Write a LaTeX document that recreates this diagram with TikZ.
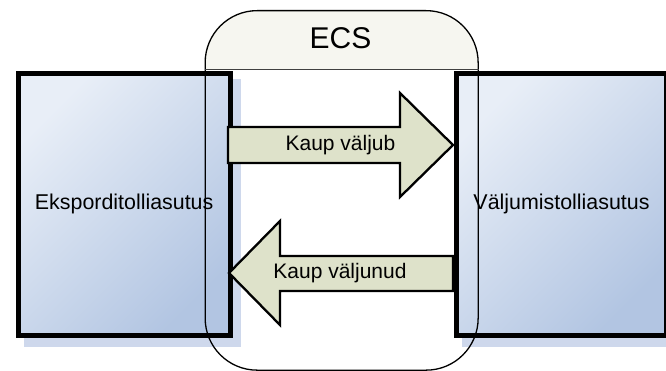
\documentclass[tikz,border=0pt]{standalone}
\usepackage{fontspec}
\setmainfont{Liberation Sans}
\definecolor{boxlight}{RGB}{232,238,247}
\definecolor{boxdark}{RGB}{178,197,226}
\definecolor{shadowc}{RGB}{206,216,236}
\definecolor{headc}{RGB}{246,246,240}
\definecolor{arrowc}{RGB}{222,226,202}
\begin{document}
\begin{tikzpicture}[x=1pt,y=-1pt,
  office/.style={draw=black, line width=5pt, top color=boxlight, bottom color=boxdark,
    shading angle=45, anchor=north west, inner sep=0pt, text=black,
    font=\fontsize{21.4}{25}\selectfont},
  shadowbox/.style={fill=shadowc},
  flow/.style={draw=black, line width=2.3pt, fill=arrowc, line join=miter},
  flowtext/.style={font=\fontsize{21}{25}\selectfont, inner sep=0pt},
  ecsframe/.style={draw=black, line width=1.3pt},
]
\useasboundingbox (0,0) rectangle (666,371);
\fill[white] (0,0) rectangle (666,371);
% ECS header fill
\fill[headc, rounded corners=52pt] (204.5,69) -- (204.5,10) -- (477.5,10) -- (477.5,69);
% shadows
\fill[shadowc] (24,79) rectangle (241,347);
\fill[shadowc] (462,79) rectangle (680,347);
% offices
\node[office, minimum width=211.7pt, minimum height=262.2pt] (exp) at (15.8,70.8) {Eksporditolliasutus};
\node[office, minimum width=210pt, minimum height=262.2pt] (exit) at (454,70.8) {Väljumistolliasutus};
% arrows
\draw[flow] (228,127) -- (400,127) -- (400,93) -- (453,145) -- (400,197) -- (400,163) -- (228,163) -- cycle;
\draw[flow] (453,256) -- (280,256) -- (280,221) -- (229,273) -- (280,325) -- (280,291) -- (453,291) -- cycle;
\node[flowtext] (go) at (340.5,145) {Kaup väljub};
\node[flowtext] (gone) at (340,273) {Kaup väljunud};
% ECS frame
\node[ecsframe, rounded corners=52pt, minimum width=273pt, minimum height=359.5pt, anchor=north west, inner sep=0pt] (ecs) at (204.5,10) {};
\draw[black!75, line width=0.8pt] (ecs.west |- 0,69) -- (ecs.east |- 0,69);
\node[font=\fontsize{30}{34}\selectfont, inner sep=0pt] (ecslabel) at (340.5,38) {ECS};
\end{tikzpicture}
\end{document}
